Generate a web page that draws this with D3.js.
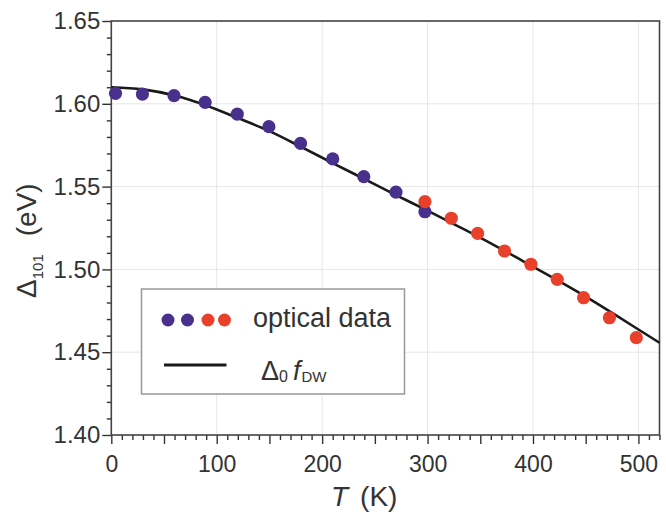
<!DOCTYPE html>
<html>
<head>
<meta charset="utf-8">
<script src="https://cdn.jsdelivr.net/npm/d3@7"></script>
<style>
	body { margin: 0; background: #fff; }
	text { font-family: "Liberation Sans", Arial, sans-serif; fill: #333; }
</style>
</head>
<body>
<svg id="svg"></svg>
<script>

const width = 666;
const height = 516;

// optical data
const blueT = [4, 29.5, 59.5, 89, 119.5, 149.5, 179.5, 210, 239.5, 270, 297.5];
const blueGap = [1.6063, 1.6059, 1.6049, 1.6009, 1.5938, 1.5862, 1.5761, 1.5667, 1.5560, 1.5467, 1.5348];
const redT = [297.5, 322.5, 347.5, 373, 398, 423, 448, 472.5, 498];
const redGap = [1.5409, 1.5309, 1.5218, 1.5111, 1.5031, 1.4940, 1.4829, 1.4708, 1.4588];

// fitted curve Delta_0 f_DW, traced
const fitT = [0, 30, 60, 90, 120, 150, 180, 210, 240, 270, 300, 330, 360, 390, 420, 450, 480, 500, 520];
const fitGap = [1.6100, 1.6087, 1.6050, 1.5990, 1.5914, 1.5835, 1.5740, 1.5642, 1.5546, 1.5449, 1.5355,
				1.5257, 1.5157, 1.5052, 1.4946, 1.4836, 1.4718, 1.4637, 1.4557];

const xLabels = [0, 100, 200, 300, 400, 500];
const yLabels = [1.40, 1.45, 1.50, 1.55, 1.60, 1.65];

const blue = "#48308c";
const red = "#e8402a";

const x = d3.scaleLinear().domain([0, 520]).range([111.3, 659.5]);
const y = d3.scaleLinear().domain([1.40, 1.65]).range([435, 21]);

const svg = d3.select("#svg")
			.attr("width", width)
			.attr("height", height);

// grid
svg.append("g").selectAll("line")
	.data(xLabels.slice(1))
	.enter().append("line")
	.attr("x1", d => x(d)).attr("x2", d => x(d))
	.attr("y1", y(1.40)).attr("y2", y(1.65))
	.style("stroke", "#e6e6e6");

svg.append("g").selectAll("line")
	.data(yLabels.slice(1, -1))
	.enter().append("line")
	.attr("x1", x(0)).attr("x2", x(520))
	.attr("y1", d => y(d)).attr("y2", d => y(d))
	.style("stroke", "#e6e6e6");

// axes: minor every 10 K / 0.01 eV, major every 50 K / 0.05 eV
const xMinor = d3.range(0, 521, 10).filter(d => d % 50 !== 0);
const yMinor = d3.range(140, 166, 1).filter(d => d % 5 !== 0).map(d => d / 100);

svg.append("g")
	.attr("transform", `translate(0,${y(1.40)})`)
	.call(d3.axisBottom(x).tickValues(xMinor).tickSize(5).tickFormat(""));
svg.append("g")
	.attr("transform", `translate(0,${y(1.40)})`)
	.call(d3.axisBottom(x).tickValues(d3.range(0, 521, 50)).tickSize(9).tickFormat(""));
svg.append("g")
	.attr("class", "xlab")
	.attr("transform", `translate(0,${y(1.40)})`)
	.call(d3.axisBottom(x).tickValues(xLabels).tickSize(0).tickPadding(21).tickFormat(d3.format("d")));

svg.append("g")
	.attr("transform", `translate(${x(0)},0)`)
	.call(d3.axisLeft(y).tickValues(yMinor).tickSize(4.5).tickFormat(""));
svg.append("g")
	.attr("class", "ylab")
	.attr("transform", `translate(${x(0)},0)`)
	.call(d3.axisLeft(y).tickValues(yLabels).tickSize(9).tickPadding(2).tickFormat(d3.format(".2f")));

svg.selectAll(".domain").remove();
svg.selectAll(".tick line").style("stroke", "#333").style("stroke-width", 1.4);
svg.selectAll(".xlab text")
	.style("font-size", "23px")
	.style("fill", "#333");
svg.selectAll(".ylab text")
	.style("font-size", "24px")
	.style("fill", "#333");

// frame
svg.append("rect")
	.attr("x", x(0)).attr("y", y(1.65))
	.attr("width", x(520) - x(0)).attr("height", y(1.40) - y(1.65))
	.style("fill", "none")
	.style("stroke", "#444")
	.style("stroke-width", 1.6);

// fit curve
const line = d3.line()
	.x(d => x(d[0]))
	.y(d => y(d[1]))
	.curve(d3.curveMonotoneX);

svg.append("path")
	.datum(d3.zip(fitT, fitGap))
	.attr("d", line)
	.style("fill", "none")
	.style("stroke", "#1a1a1a")
	.style("stroke-width", 2.6);

// data points
svg.append("g").selectAll("circle")
	.data(d3.zip(blueT, blueGap))
	.enter().append("circle")
	.attr("cx", d => x(d[0]))
	.attr("cy", d => y(d[1]))
	.attr("r", 6.6)
	.style("fill", blue);

svg.append("g").selectAll("circle")
	.data(d3.zip(redT, redGap))
	.enter().append("circle")
	.attr("cx", d => x(d[0]))
	.attr("cy", d => y(d[1]))
	.attr("r", 6.6)
	.style("fill", red);

// legend
const legend = svg.append("g");
legend.append("rect")
	.attr("x", 141.5).attr("y", 289)
	.attr("width", 263).attr("height", 105)
	.style("fill", "#fff")
	.style("stroke", "#999")
	.style("stroke-width", 1.5);

legend.selectAll("circle")
	.data([[168, blue], [187.5, blue], [208, red], [224.5, red]])
	.enter().append("circle")
	.attr("cx", d => d[0]).attr("cy", 320)
	.attr("r", 6.5)
	.style("fill", d => d[1]);

legend.append("text")
	.attr("x", 253).attr("y", 327)
	.style("font-size", "27px")
	.text("optical data");

legend.append("line")
	.attr("x1", 164).attr("x2", 226.5)
	.attr("y1", 365).attr("y2", 365)
	.style("stroke", "#1a1a1a")
	.style("stroke-width", 3);

const fitLabel = legend.append("text")
	.attr("x", 261).attr("y", 380)
	.style("font-size", "27px");
fitLabel.append("tspan").text("\u0394");
fitLabel.append("tspan").attr("dy", 2).style("font-size", "16px").text("0");
fitLabel.append("tspan").attr("dx", 5).attr("dy", -2).style("font-style", "italic").text("f");
fitLabel.append("tspan").attr("dx", 1).attr("dy", 2).style("font-size", "15px").text("DW");

// axis titles
const xTitle = svg.append("text")
	.attr("x", 331).attr("y", 506)
	.style("font-size", "28px");
xTitle.append("tspan").style("font-style", "italic").text("T");
xTitle.append("tspan").attr("dx", 12).text("(K)");

const yTitle = svg.append("text")
	.attr("transform", "translate(36,298) rotate(-90)")
	.style("font-size", "28px");
yTitle.append("tspan").text("\u0394");
yTitle.append("tspan").attr("dy", 7).style("font-size", "15px").text("101");
yTitle.append("tspan").attr("dx", 18).attr("dy", -7).text("(eV)");

</script>
</body>
</html>
